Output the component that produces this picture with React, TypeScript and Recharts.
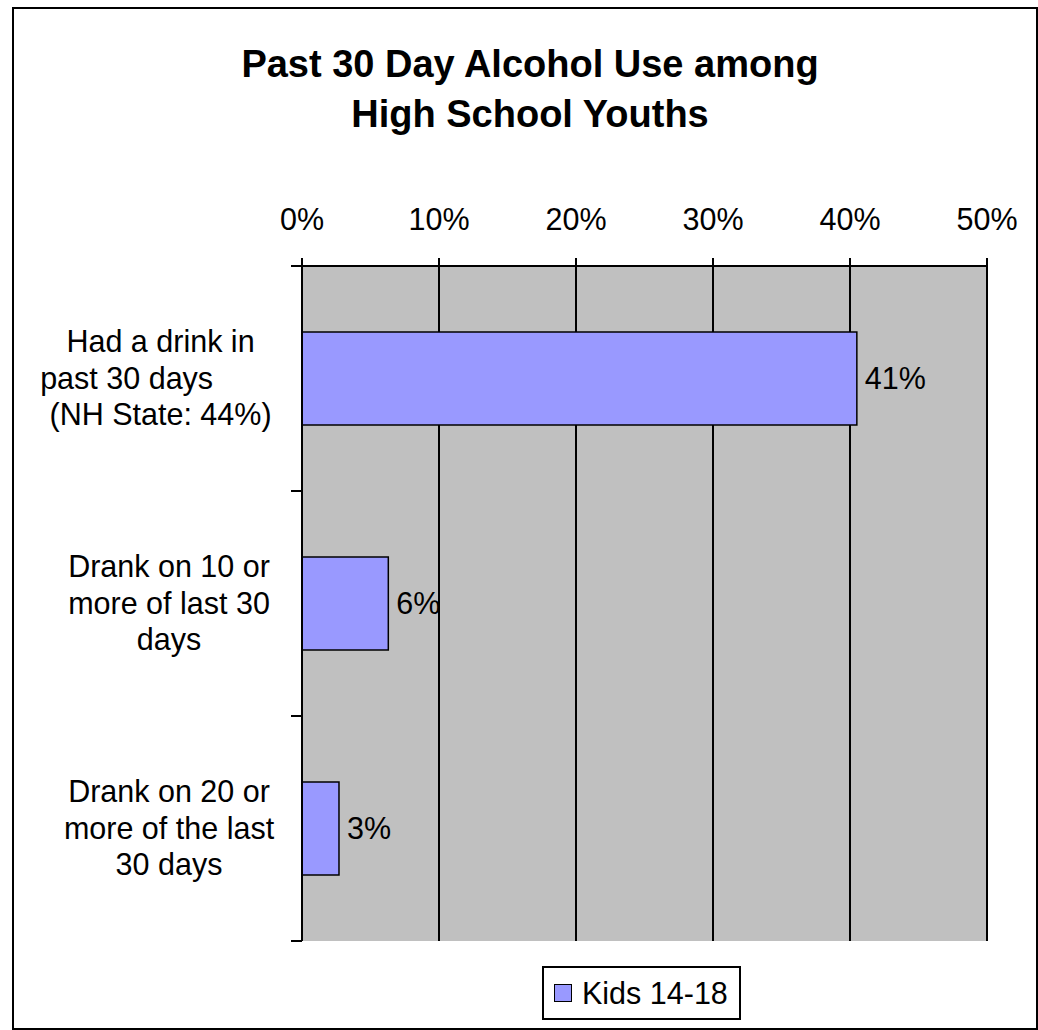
import React from 'react'
import {
  BarChart,
  Bar,
  XAxis,
  YAxis,
  CartesianGrid,
  LabelList,
  Legend,
} from 'recharts'

// category labels keep Excel's odd wrapping (trailing spaces shift the centred lines)
const categories = [
  'Had a drink in  \npast 30 days          \n(NH State: 44%)  ',
  'Drank on 10 or\nmore of last 30\ndays',
  'Drank on 20 or\nmore of the last\n30 days',
]
const kids = [40.5, 6.3, 2.7]
const xTicks = [0, 10, 20, 30, 40, 50]
const seriesName = 'Kids 14-18'
const titleLines = ['Past 30 Day Alcohol Use among', 'High School Youths']

const data = categories.map((name, i) => ({ name, kids: kids[i] }))

const FONT = '"Liberation Sans", Arial, sans-serif'
const FS = 30.5
const BAR_FILL = '#9999FF'

function CategoryTick(props: any) {
  const { x, y, payload, index, visibleTicksCount } = props
  const half = payload.offset || 112.5
  const lines = String(payload.value).split('\n')
  const cx = x - 133
  const lineH = 36.5
  const firstDy = 10 - (lineH * (lines.length - 1)) / 2
  return (
    <g>
      <line x1={x - 11} x2={x} y1={y - half} y2={y - half} stroke="#000" strokeWidth={2} />
      {index === visibleTicksCount - 1 && (
        <line x1={x - 11} x2={x} y1={y + half} y2={y + half} stroke="#000" strokeWidth={2} />
      )}
      <text x={cx} y={y} textAnchor="middle" fontSize={FS} fill="#000" style={{ whiteSpace: 'pre' }}>
        {lines.map((l, i) => (
          <tspan key={i} x={cx} dy={i === 0 ? firstDy : lineH}>
            {l}
          </tspan>
        ))}
      </text>
    </g>
  )
}

function LegendBox(props: any) {
  const items = props.payload || []
  return (
    <div
      style={{
        boxSizing: 'border-box',
        width: 199,
        height: 54,
        border: '2px solid #000',
        background: '#fff',
        display: 'flex',
        alignItems: 'center',
        paddingLeft: 10,
        fontFamily: FONT,
        fontSize: FS,
        color: '#000',
      }}
    >
      {items.map((entry: any) => (
        <React.Fragment key={entry.value}>
          <span
            style={{
              display: 'inline-block',
              boxSizing: 'border-box',
              width: 18,
              height: 18,
              background: entry.color,
              border: '1.5px solid #000',
              marginRight: 10,
            }}
          />
          <span>{entry.value}</span>
        </React.Fragment>
      ))}
    </div>
  )
}

export default function App() {
  return (
    <div style={{ position: 'relative', width: 1038, height: 1030, fontFamily: FONT, background: '#fff' }}>
      <style>{'body{margin:0}'}</style>

      {/* outer chart frame */}
      <div
        style={{
          position: 'absolute',
          left: 12,
          top: 7,
          width: 1026,
          height: 1023,
          boxSizing: 'border-box',
          border: '2px solid #000',
          pointerEvents: 'none',
        }}
      />

      {/* title */}
      <div
        style={{
          position: 'absolute',
          left: 130,
          top: 39,
          width: 800,
          textAlign: 'center',
          fontWeight: 'bold',
          fontSize: 38,
          lineHeight: '50px',
          color: '#000',
        }}
      >
        {titleLines.map((t) => (
          <div key={t}>{t}</div>
        ))}
      </div>

      <div style={{ position: 'absolute', left: 0, top: 0 }}>
        <BarChart
          width={1038}
          height={1030}
          data={data}
          layout="vertical"
          margin={{ top: 206, right: 51, bottom: 89, left: 12 }}
        >
          <CartesianGrid horizontal={false} fill="#C0C0C0" fillOpacity={1} stroke="#000" strokeWidth={2} />

          <XAxis
            type="number"
            orientation="top"
            domain={[0, 50]}
            ticks={xTicks}
            tickFormatter={(v: number) => `${v}%`}
            height={60}
            tickSize={8}
            tickMargin={28}
            axisLine={{ stroke: '#000', strokeWidth: 2 }}
            tickLine={{ stroke: '#000', strokeWidth: 2 }}
            tick={{ fill: '#000', fontSize: FS }}
            interval={0}
          />
          {/* gray bottom edge of the plot area */}
          <XAxis
            xAxisId="bottom"
            type="number"
            orientation="bottom"
            domain={[0, 50]}
            height={0}
            tick={false}
            tickLine={false}
            axisLine={{ stroke: '#808080', strokeWidth: 2 }}
          />

          <YAxis
            type="category"
            dataKey="name"
            width={290}
            tickSize={0}
            tickMargin={0}
            axisLine={{ stroke: '#000', strokeWidth: 2 }}
            tickLine={false}
            tick={<CategoryTick />}
            interval={0}
          />
          {/* gray right edge of the plot area */}
          <YAxis
            yAxisId="right"
            type="category"
            dataKey="name"
            orientation="right"
            width={0}
            tick={false}
            tickLine={false}
            axisLine={{ stroke: '#808080', strokeWidth: 2 }}
          />

          <Legend
            layout="horizontal"
            verticalAlign="middle"
            align="center"
            wrapperStyle={{ position: 'absolute', left: 542, top: 966, width: 199, height: 54 }}
            content={<LegendBox />}
          />

          <Bar
            dataKey="kids"
            name={seriesName}
            fill={BAR_FILL}
            stroke="#000"
            strokeWidth={1.5}
            barSize={93}
            isAnimationActive={false}
          >
            <LabelList
              dataKey="kids"
              position="right"
              offset={8}
              formatter={(v: number) => `${Math.round(v)}%`}
              fill="#000"
              fontSize={FS}
            />
          </Bar>
        </BarChart>
      </div>
    </div>
  )
}
